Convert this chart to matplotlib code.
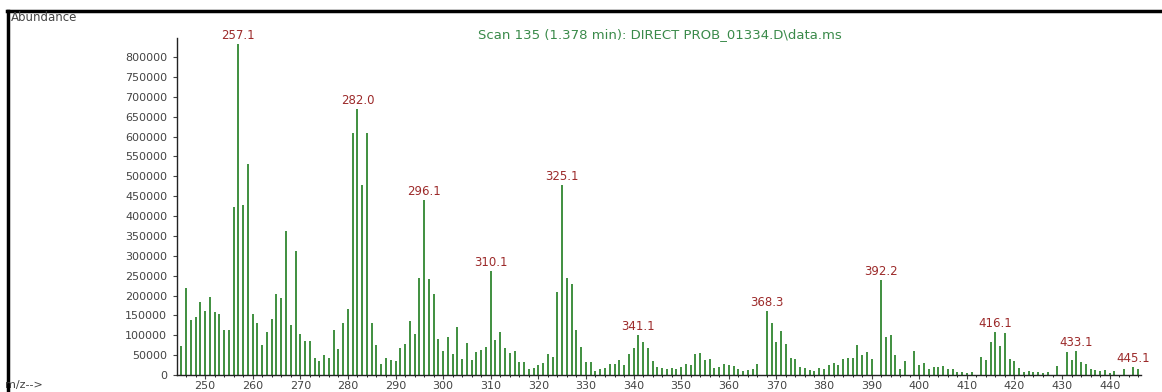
import matplotlib
matplotlib.use("Agg")
import matplotlib.pyplot as plt
from matplotlib.lines import Line2D

# m/z values and abundances of the scan (m/z with no signal are left out)
mz = [245, 246, 247, 248, 249, 250, 251, 252, 253, 254, 255, 256, 257, 258, 259,
      260, 261, 262, 263, 264, 265, 266, 267, 268, 269, 270, 271, 272, 273, 274,
      275, 276, 277, 278, 279, 280, 281, 282, 283, 284, 285, 286, 287, 288, 289,
      290, 291, 292, 293, 294, 295, 296, 297, 298, 299, 300, 301, 302, 303, 304,
      305, 306, 307, 308, 309, 310, 311, 312, 313, 314, 315, 316, 317, 318, 319,
      320, 321, 322, 323, 324, 325, 326, 327, 328, 329, 330, 331, 332, 333, 334,
      335, 336, 337, 338, 339, 340, 341, 342, 343, 344, 345, 346, 347, 348, 349,
      350, 351, 352, 353, 354, 355, 356, 357, 358, 359, 360, 361, 362, 363, 364,
      365, 366, 368, 369, 370, 371, 372, 373, 374, 375, 376, 377, 378, 379, 380,
      381, 382, 383, 384, 385, 386, 387, 388, 389, 390, 392, 393, 394, 395, 396,
      397, 399, 400, 401, 402, 403, 404, 405, 406, 407, 408, 409, 410, 411, 413,
      414, 415, 416, 417, 418, 419, 420, 421, 422, 423, 424, 425, 426, 427, 429,
      431, 432, 433, 434, 435, 436, 437, 438, 439, 440, 441, 443, 445, 446]

abundance = [72000, 218000, 138000, 145000, 183000, 162000, 196000, 158000, 153000, 113000,
             114000, 422000, 833000, 428000, 530000, 153000, 130000, 75000, 107000, 140000,
             205000, 194000, 363000, 126000, 312000, 104000, 86000, 86000, 44000, 35000,
             50000, 44000, 113000, 66000, 130000, 165000, 610000, 669000, 478000, 610000,
             130000, 76000, 28000, 42000, 38000, 35000, 67000, 79000, 136000, 102000,
             243000, 440000, 241000, 203000, 91000, 61000, 96000, 53000, 122000, 41000,
             80000, 38000, 57000, 63000, 71000, 262000, 88000, 109000, 69000, 56000,
             60000, 32000, 32000, 14000, 18000, 26000, 29000, 53000, 46000, 208000,
             478000, 243000, 228000, 114000, 71000, 32000, 32000, 11000, 16000, 18000,
             28000, 28000, 37000, 24000, 54000, 69000, 100000, 82000, 69000, 35000,
             21000, 17000, 15000, 17000, 15000, 19000, 28000, 26000, 52000, 55000,
             38000, 41000, 18000, 19000, 28000, 24000, 23000, 15000, 10000, 12000,
             15000, 28000, 162000, 130000, 84000, 111000, 78000, 44000, 41000, 21000,
             17000, 12000, 9000, 17000, 16000, 24000, 31000, 24000, 40000, 44000,
             42000, 75000, 50000, 59000, 40000, 239000, 96000, 100000, 50000, 15000,
             34000, 61000, 24000, 29000, 14000, 21000, 20000, 22000, 15000, 14000,
             8000, 8000, 6000, 7500, 45000, 38000, 84000, 108000, 74000, 106000,
             40000, 34000, 17000, 7500, 10000, 8000, 8000, 6000, 7500, 23000,
             57000, 38000, 60000, 33000, 28000, 14000, 13000, 10000, 13000, 6000,
             10000, 15000, 19000, 15000]

# labelled peaks
peak_labels = ["257.1", "282.0", "296.1", "310.1", "325.1", "341.1",
               "368.3", "392.2", "416.1", "433.1", "445.1"]

title = "Scan 135 (1.378 min): DIRECT PROB_01334.D\\data.ms"

fig = plt.figure(figsize=(11.62, 3.92), dpi=100)
ax = fig.add_axes([0.1523, 0.0434, 0.8297, 0.8596])

ax.vlines(mz, 0, abundance, color="#3f8f3f", linewidth=1.4)

for lab in peak_labels:
    m = int(round(float(lab)))
    h = abundance[mz.index(m)]
    ax.text(m, h + 5000, lab, ha="center", va="bottom", color="#9c2a2a",
            fontsize=8.5)

ax.set_xlim(244.1, 446.6)
ax.set_ylim(0, 848000)
ax.set_xticks(range(250, 441, 10))
ax.set_yticks(range(0, 800001, 50000))
ax.set_xticks(range(246, 447, 2), minor=True)
ax.tick_params(axis="both", labelsize=8, colors="#444444", length=3, width=0.8)
ax.tick_params(axis="x", which="minor", length=1.5, width=0.6)
ax.tick_params(axis="x", pad=1)
ax.tick_params(axis="y", pad=4)

for s in ["top", "right"]:
    ax.spines[s].set_visible(False)
for s in ["left", "bottom"]:
    ax.spines[s].set_linewidth(1.0)
    ax.spines[s].set_color("#222222")

fig.text(0.568, 0.912, title, ha="center", va="center", color="#3a8a4a", fontsize=9.5)
fig.text(0.009, 0.955, "Abundance", ha="left", va="center", color="#444444", fontsize=8.5)
fig.text(0.004, 0.018, "m/z-->", ha="left", va="center", color="#444444", fontsize=8)

# frame lines at top and left
fig.add_artist(Line2D([0.006, 1.0], [0.971, 0.971], color="black", linewidth=2.5,
                      transform=fig.transFigure))
fig.add_artist(Line2D([0.0073, 0.0073], [0.0, 0.971], color="black", linewidth=2.5,
                      transform=fig.transFigure))

fig.savefig("out.png", dpi=100, facecolor="white")
